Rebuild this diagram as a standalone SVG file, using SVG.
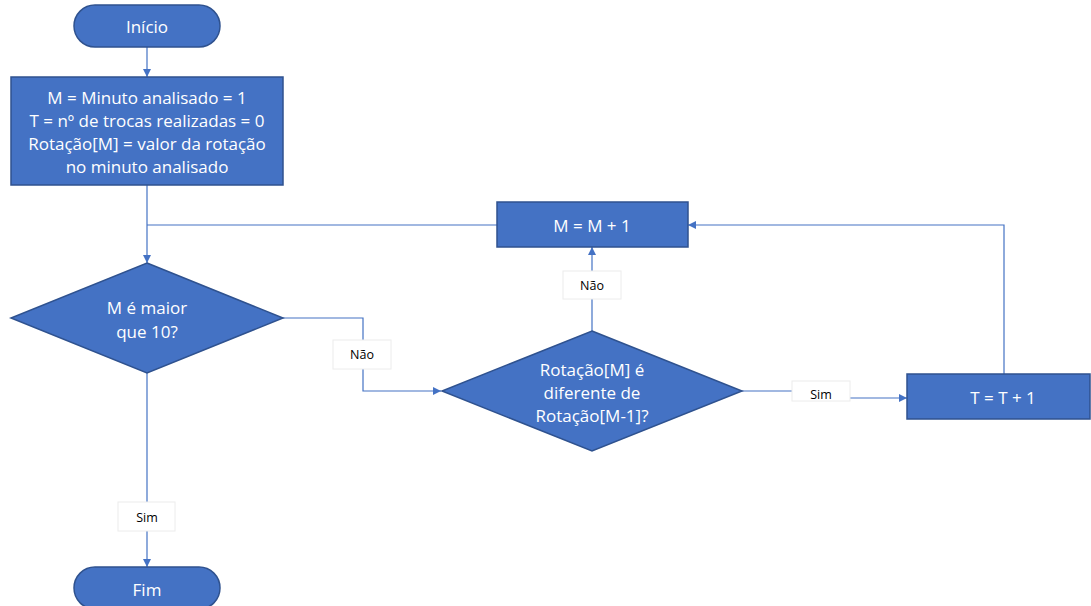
<svg xmlns="http://www.w3.org/2000/svg" width="1091" height="606" viewBox="0 0 1091 606">
<defs>
<marker id="ah" viewBox="0 0 10 10" refX="10" refY="5" markerWidth="8" markerHeight="8" markerUnits="userSpaceOnUse" orient="auto">
<path d="M0,0 L10,5 L0,10 z" fill="#4472C4"/>
</marker>
<style>
.shape{fill:#4472C4;stroke:#2F528F;stroke-width:1.5}
.t{font-family:"Open Sans","Noto Sans",sans-serif;font-size:17px;fill:#ffffff;text-anchor:middle;dominant-baseline:central}
.c{fill:none;stroke:#4472C4;stroke-width:1.2}
.lb{fill:#ffffff;stroke:#ececec;stroke-width:1}
.lt{font-family:"Open Sans","Noto Sans",sans-serif;font-size:12.5px;fill:#000000;text-anchor:middle;dominant-baseline:central}
</style>
</defs>
<rect width="1091" height="606" fill="#ffffff"/>
<g id="connectors">
<path class="c" d="M147,47 V77" marker-end="url(#ah)"/>
<path class="c" d="M147,185 V263" marker-end="url(#ah)"/>
<path class="c" d="M147,225 H497"/>
<path class="c" d="M283,318 H363 V391 H441" marker-end="url(#ah)"/>
<path class="c" d="M592,331 V247" marker-end="url(#ah)"/>
<path class="c" d="M742,391 H820 V398 H907" marker-end="url(#ah)"/>
<path class="c" d="M1004,374 V225 H688" marker-end="url(#ah)"/>
<path class="c" d="M147,373 V567" marker-end="url(#ah)"/>
<g id="lbl-nao1"><rect class="lb" x="333" y="340" width="58" height="29"/><text class="lt" x="362" y="354.5">Não</text></g>
<g id="lbl-nao2"><rect class="lb" x="563" y="271" width="58" height="28"/><text class="lt" x="592" y="285">Não</text></g>
<g id="lbl-sim1"><rect class="lb" x="792" y="381" width="58" height="20"/><text class="lt" x="821" y="394">Sim</text></g>
<g id="lbl-sim2"><rect class="lb" x="118" y="502" width="57" height="29"/><text class="lt" x="147" y="517">Sim</text></g>
</g>
<g id="inicio">
<rect class="shape" x="74" y="5" width="146" height="42" rx="21" ry="21"/>
<text class="t" x="147" y="26">Início</text>
</g>
<g id="init">
<rect class="shape" x="11" y="77" width="272" height="108"/>
<text class="t" x="147" y="97">M = Minuto analisado = 1</text>
<text class="t" x="147" y="120">T = nº de trocas realizadas = 0</text>
<text class="t" x="147" y="143">Rotação[M] = valor da rotação</text>
<text class="t" x="147" y="166">no minuto analisado</text>
</g>
<g id="dec1">
<polygon class="shape" points="147,263 283,318 147,373 11,318"/>
<text class="t" x="147" y="307">M é maior</text>
<text class="t" x="147" y="331">que 10?</text>
</g>
<g id="inc-m">
<rect class="shape" x="497" y="202" width="191" height="45"/>
<text class="t" x="592" y="225">M = M + 1</text>
</g>
<g id="dec2">
<polygon class="shape" points="592,331 742,391 592,451 442,391"/>
<text class="t" x="592" y="369">Rotação[M] é</text>
<text class="t" x="592" y="392">diferente de</text>
<text class="t" x="592" y="415">Rotação[M-1]?</text>
</g>
<g id="inc-t">
<rect class="shape" x="907" y="374" width="183" height="45"/>
<text class="t" x="1003" y="397">T = T + 1</text>
</g>
<g id="fim">
<rect class="shape" x="74" y="567" width="146" height="42" rx="21" ry="21"/>
<text class="t" x="147" y="589">Fim</text>
</g>
</svg>
